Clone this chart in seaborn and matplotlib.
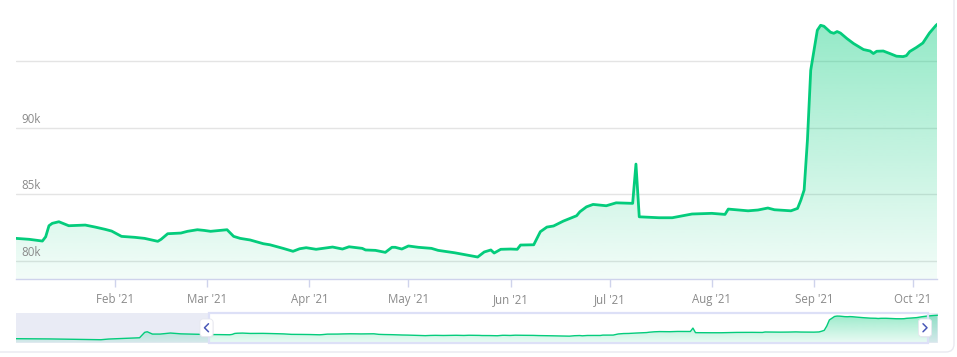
import numpy as np
import pandas as pd
import matplotlib
matplotlib.use("Agg")
import matplotlib.pyplot as plt
import matplotlib.dates as mdates
from matplotlib.patches import FancyBboxPatch, Rectangle
from matplotlib.lines import Line2D
import seaborn as sns

# ---------------- data (values in thousands) ----------------
dates = [
    "2020-10-19", "2020-11-01", "2020-11-21", "2020-11-24", "2020-12-06", "2020-12-08",
    "2020-12-09", "2020-12-11", "2020-12-14", "2020-12-18", "2020-12-22", "2020-12-29",
    "2021-01-02", "2021-01-06", "2021-01-10", "2021-01-11", "2021-01-12", "2021-01-13",
    "2021-01-15", "2021-01-16", "2021-01-18", "2021-01-23", "2021-01-26", "2021-01-29",
    "2021-01-31", "2021-02-03", "2021-02-07", "2021-02-10", "2021-02-14", "2021-02-15",
    "2021-02-17", "2021-02-21", "2021-02-23", "2021-02-26", "2021-02-28", "2021-03-02",
    "2021-03-07", "2021-03-09", "2021-03-11", "2021-03-14", "2021-03-18", "2021-03-20",
    "2021-03-24", "2021-03-27", "2021-03-29", "2021-03-31", "2021-04-03", "2021-04-08",
    "2021-04-11", "2021-04-13", "2021-04-17", "2021-04-18", "2021-04-21", "2021-04-24",
    "2021-04-26", "2021-04-27", "2021-04-29", "2021-05-01", "2021-05-04", "2021-05-08",
    "2021-05-10", "2021-05-15", "2021-05-22", "2021-05-24", "2021-05-26", "2021-05-27",
    "2021-05-29", "2021-06-01", "2021-06-03", "2021-06-04", "2021-06-08", "2021-06-10",
    "2021-06-12", "2021-06-14", "2021-06-17", "2021-06-21", "2021-06-22", "2021-06-24",
    "2021-06-26", "2021-06-30", "2021-07-03", "2021-07-08", "2021-07-09", "2021-07-10",
    "2021-07-16", "2021-07-20", "2021-07-26", "2021-08-01", "2021-08-05", "2021-08-06",
    "2021-08-12", "2021-08-15", "2021-08-18", "2021-08-20", "2021-08-25", "2021-08-27",
    "2021-08-28", "2021-08-29", "2021-08-30", "2021-08-31", "2021-09-02", "2021-09-03",
    "2021-09-04", "2021-09-06", "2021-09-07", "2021-09-08", "2021-09-09", "2021-09-11",
    "2021-09-13", "2021-09-16", "2021-09-18", "2021-09-19", "2021-09-20", "2021-09-22",
    "2021-09-24", "2021-09-26", "2021-09-28", "2021-09-29", "2021-09-30", "2021-10-02",
    "2021-10-04", "2021-10-06", "2021-10-08", "2021-10-10", "2021-10-12",
]
values = [
    78.1, 77.9, 77.2, 77.8, 78.9, 83.6,
    84.1, 82.1, 82.1, 83.0, 82.3, 81.9,
    81.70, 81.63, 81.50, 81.82, 82.65, 82.83,
    82.95, 82.85, 82.65, 82.70, 82.55, 82.38,
    82.25, 81.85, 81.78, 81.70, 81.48, 81.63,
    82.05, 82.10, 82.23, 82.35, 82.30, 82.23,
    82.35, 81.85, 81.70, 81.58, 81.30, 81.22,
    80.95, 80.73, 80.92, 81.00, 80.88, 81.05,
    80.90, 81.07, 80.95, 80.83, 80.80, 80.65,
    81.03, 81.03, 80.90, 81.13, 81.03, 80.95,
    80.80, 80.62, 80.30, 80.68, 80.83, 80.60,
    80.88, 80.90, 80.88, 81.20, 81.22, 82.20,
    82.55, 82.63, 83.00, 83.40, 83.70, 84.07,
    84.25, 84.15, 84.37, 84.33, 87.28, 83.32,
    83.25, 83.25, 83.53, 83.58, 83.50, 83.90,
    83.77, 83.83, 83.98, 83.85, 83.77, 83.95,
    84.57, 85.33, 89.08, 94.33, 97.33, 97.70,
    97.63, 97.18, 97.10, 97.23, 97.12, 96.70,
    96.33, 95.88, 95.77, 95.58, 95.75, 95.77,
    95.58, 95.38, 95.35, 95.42, 95.73, 96.03,
    96.37, 97.12, 97.70, 98.1, 98.4,
]
grid_values = [80, 85, 90, 95]
grid_labels = ["80k", "85k", "90k", ""]
month_ticks = ["2021-02-01", "2021-03-01", "2021-04-01", "2021-05-01", "2021-06-01",
               "2021-07-01", "2021-08-01", "2021-09-01", "2021-10-01"]

df = pd.DataFrame({"date": pd.to_datetime(dates), "value": values})

# ---------------- style ----------------
sns.set_theme(style="white")
plt.rcParams["font.family"] = ["Open Sans", "DejaVu Sans"]

GREEN = "#04cc7c"
GREEN_RGB = np.array([4, 204, 124]) / 255.0
TXT = "#8a8a8a"
AXIS = "#cfd3ec"

W, H = 957, 357
fig = plt.figure(figsize=(W / 100, H / 100), dpi=100)
fig.patch.set_facecolor("white")

view_start = pd.Timestamp("2021-01-02")
view_end = pd.Timestamp("2021-10-08 07:00")
nav_start = pd.Timestamp("2020-10-19")
nav_end = pd.Timestamp("2021-10-12 05:00")


def gradient_fill(ax, x, y, ylim, a_top, a_bot, zorder=1):
    poly = ax.fill_between(x, y, ylim[0], color="none", lw=0)
    xn = mdates.date2num(x)
    ext_x0, ext_x1 = ax.get_xlim()
    img = np.zeros((256, 1, 4))
    img[:, :, :3] = GREEN_RGB
    img[:, 0, 3] = np.linspace(a_top, a_bot, 256)
    im = ax.imshow(img, aspect="auto", extent=[ext_x0, ext_x1, ylim[0], ylim[1]],
                   origin="upper", zorder=zorder, interpolation="bilinear")
    path = poly.get_paths()[0]
    im.set_clip_path(path, transform=ax.transData)


# ---------------- main chart ----------------
ax = fig.add_axes([16 / W, 1 - 279 / H, 921 / W, 279 / H])
ylim = (78.65, 99.6)
ax.set_xlim(view_start, view_end)
ax.set_ylim(*ylim)
for gv in grid_values:
    ax.axhline(gv, color="#e4e4e4", lw=1, zorder=0.5)
gradient_fill(ax, df["date"], df["value"], ylim, 0.46, 0.05, zorder=1)
ax.set_xlim(view_start, view_end)
ax.set_ylim(*ylim)
sns.lineplot(data=df, x="date", y="value", ax=ax, color=GREEN, lw=2.0, zorder=3)
ax.set_xlim(view_start, view_end)
ax.set_ylim(*ylim)

for gv, gl in zip(grid_values, grid_labels):
    if gl:
        ax.annotate(gl, xy=(0, gv), xycoords=("axes fraction", "data"),
                    xytext=(5, 2), textcoords="offset pixels", ha="left", va="bottom",
                    color=TXT, fontsize=8.3)

ax.set_xlabel("")
ax.set_ylabel("")
ax.set_yticks([])
ax.set_xticks(pd.to_datetime(month_ticks))
ax.xaxis.set_major_formatter(mdates.DateFormatter("%b '%y"))
ax.tick_params(axis="x", length=6, width=1, color=AXIS, labelcolor=TXT,
               labelsize=8.3, pad=4, direction="out", bottom=True)
for s in ["top", "left", "right"]:
    ax.spines[s].set_visible(False)
ax.spines["bottom"].set_color(AXIS)
ax.spines["bottom"].set_linewidth(1)
ax.set_facecolor("none")

# ---------------- navigator ----------------
nav = fig.add_axes([16 / W, 1 - 342.5 / H, 922 / W, 29.8 / H])
nylim = (74.8, 100.6)
nav.set_xlim(nav_start, nav_end)
nav.set_ylim(*nylim)
nav.axvspan(nav_start, view_start, color="#e9ebf5", lw=0, zorder=0)
nav.axvspan(view_end, nav_end, color="#e9ebf5", lw=0, zorder=0)
gradient_fill(nav, df["date"], df["value"], nylim, 0.42, 0.08, zorder=1)
nav.set_xlim(nav_start, nav_end)
nav.set_ylim(*nylim)
sns.lineplot(data=df, x="date", y="value", ax=nav, color=GREEN, lw=1.0, zorder=3)
nav.set_xlim(nav_start, nav_end)
nav.set_ylim(*nylim)
nav.add_patch(Rectangle((mdates.date2num(view_start), nylim[0]),
                        mdates.date2num(view_end) - mdates.date2num(view_start),
                        nylim[1] - nylim[0], fill=False, ec="#dde0f7", lw=1.6, zorder=4,
                        clip_on=False))
nav.set_xticks([])
nav.set_yticks([])
nav.set_xlabel("")
nav.set_ylabel("")
for s in nav.spines.values():
    s.set_visible(False)
nav.set_facecolor("none")

# handles (pixel coordinates, y from top)
def handle(cx, direction):
    x0, y0, w, h = cx - 6.5, H - 336.5, 13, 17.5
    sh = FancyBboxPatch((x0 + 0.5, y0 - 1), w, h, boxstyle="round,pad=0,rounding_size=3",
                        transform=None, fc="#dcdde6", ec="none", alpha=0.6, zorder=10)
    fig.patches.append(sh)
    p = FancyBboxPatch((x0, y0), w, h, boxstyle="round,pad=0,rounding_size=3",
                       transform=None, fc="white", ec="#e6e7ef", lw=0.6, zorder=11)
    fig.patches.append(p)
    yc = y0 + h / 2
    if direction < 0:
        xs = [cx + 2, cx - 2, cx + 2]
    else:
        xs = [cx - 2, cx + 2, cx - 2]
    ys = [yc + 4, yc, yc - 4]
    fig.lines.append(Line2D(xs, ys, transform=None, color="#4a59b8", lw=1.1, zorder=12))

handle(206.5, -1)
handle(925, 1)

# outer card border
card = FancyBboxPatch((-20, H - 352), 974, 400, boxstyle="round,pad=0,rounding_size=8",
                      transform=None, fc="none", ec="#e9e9f0", lw=1, zorder=0)
fig.patches.append(card)

fig.savefig("out.png", dpi=100)
